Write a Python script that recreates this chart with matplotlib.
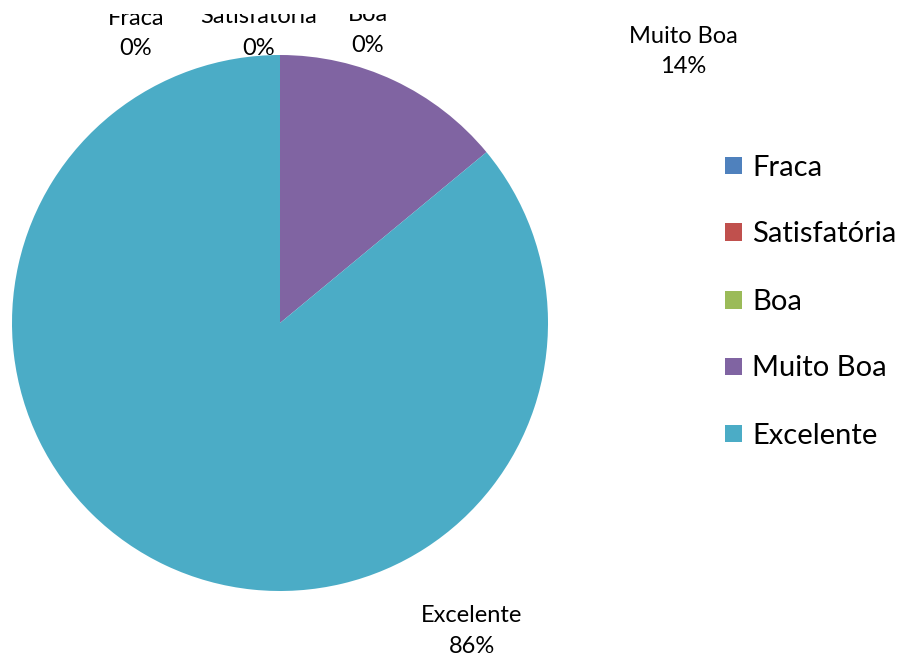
import matplotlib
matplotlib.use("Agg")
import matplotlib.pyplot as plt
from matplotlib.patches import Rectangle
from matplotlib.transforms import Bbox

categories = ["Fraca", "Satisfatória", "Boa", "Muito Boa", "Excelente"]
values = [0, 0, 0, 14, 86]
colors = ["#4F81BD", "#C0504D", "#9BBB59", "#8064A2", "#4BACC6"]

W, H = 902, 657
plt.rcParams['font.family'] = ['Lato', 'DejaVu Sans']
fig = plt.figure(figsize=(W / 100, H / 100), dpi=100)

cx, cy, r = 280, 323, 268
ax = fig.add_axes([(cx - r) / W, (H - cy - r) / H, 2 * r / W, 2 * r / H])
ax.pie(values, colors=colors, startangle=90, counterclock=False, radius=1.0,
       wedgeprops=dict(linewidth=0))
ax.set_xlim(-1, 1)
ax.set_ylim(-1, 1)
ax.set_aspect('equal')
ax.axis('off')

def px(x, y):
    return x / W, 1 - y / H

# chart-area clip box (text above y=14 px is cut off)
clip = Bbox.from_extents(0, 0, W, H - 14)

# data labels (name + percentage), pixel positions of their baselines
label_pos = [(136, 25, 55), (259, 23, 55), (368, 21, 52), (683, 43, 73), (472, 622, 653)]
total = sum(values)
for name, v, (x, y1, y2) in zip(categories, values, label_pos):
    t1 = fig.text(*px(x, y1), name, ha='center', va='baseline', fontsize=17, color='black')
    t2 = fig.text(*px(x, y2), f"{round(100 * v / total)}%", ha='center', va='baseline',
                  fontsize=17, color='black')
    for t in (t1, t2):
        t.set_clip_box(clip)
        t.set_clip_on(True)

# legend
leg_y = [165, 232, 300, 366, 433]
for name, c, y in zip(categories, colors, leg_y):
    s = 17
    fig.patches.append(Rectangle((725 / W, 1 - (y + s / 2) / H), s / W, s / H,
                                 transform=fig.transFigure, facecolor=c, edgecolor='none'))
    fig.text(*px(752, y), name, ha='left', va='center_baseline', fontsize=21, color='black')

fig.savefig("out.png", dpi=100)
